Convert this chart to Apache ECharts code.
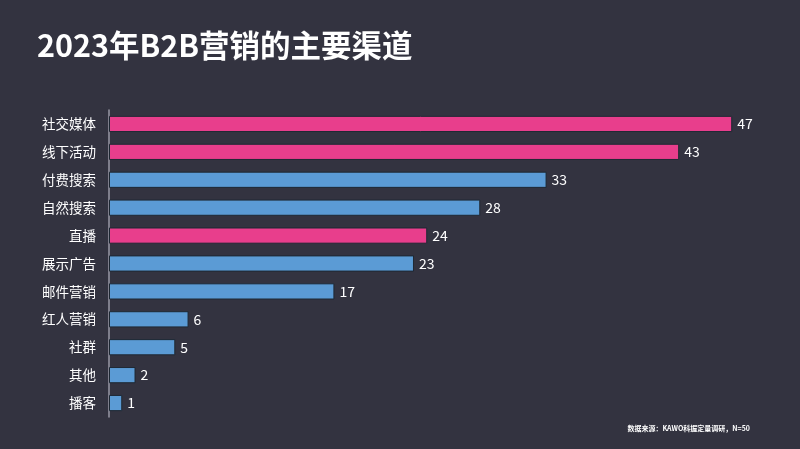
<!DOCTYPE html>
<html><head><meta charset="utf-8">
<script src="https://cdn.jsdelivr.net/npm/echarts@6/dist/echarts.min.js"></script>
<style>html,body{margin:0;padding:0;background:#333340;}#c{width:800px;height:449px;}</style>
</head><body><div id="c"></div>
<script>
const categories = ['社交媒体','线下活动','付费搜索','自然搜索','直播','展示广告','邮件营销','红人营销','社群','其他','播客'];
const values = [47,43,33,28,24,23,17,6,5,2,1];
const highlighted = ['社交媒体','线下活动','直播'];
const PINK = '#e83e8c', BLUE = '#5b9bd5';
const chart = echarts.init(document.getElementById('c'));
chart.setOption({
  backgroundColor:'#333340',
  textStyle:{fontFamily:'Noto Sans CJK SC'},
  title:[{text:'2023年B2B营销的主要渠道',left:32,top:25,textStyle:{color:'#fff',fontSize:30.5,fontWeight:'bold',fontFamily:'Noto Sans CJK SC'}},
    {text:'数据来源：KAWO科握定量调研，N=50',right:45,top:420,textStyle:{color:'#fff',fontSize:7,fontWeight:'bold',fontFamily:'Noto Sans CJK SC'}}],
  grid:{left:109,right:28,top:110,bottom:32,containLabel:false},
  xAxis:{type:'value',min:0,max:50,show:false},
  yAxis:{type:'category',data:categories,inverse:true,
    axisLine:{show:true,lineStyle:{color:'#9a9aa6',width:1.5}},axisTick:{show:false},
    axisLabel:{color:'#fff',fontSize:13.5,margin:13}},
  series:[{type:'bar',barWidth:'58%',
    data:values.map((v,i)=>({value:v,itemStyle:{color:highlighted.includes(categories[i])?PINK:BLUE}})),
    itemStyle:{borderColor:'#1e2833',borderWidth:1},
    label:{show:true,position:'right',color:'#fff',fontSize:14,distance:5}}]
});
</script></body></html>
